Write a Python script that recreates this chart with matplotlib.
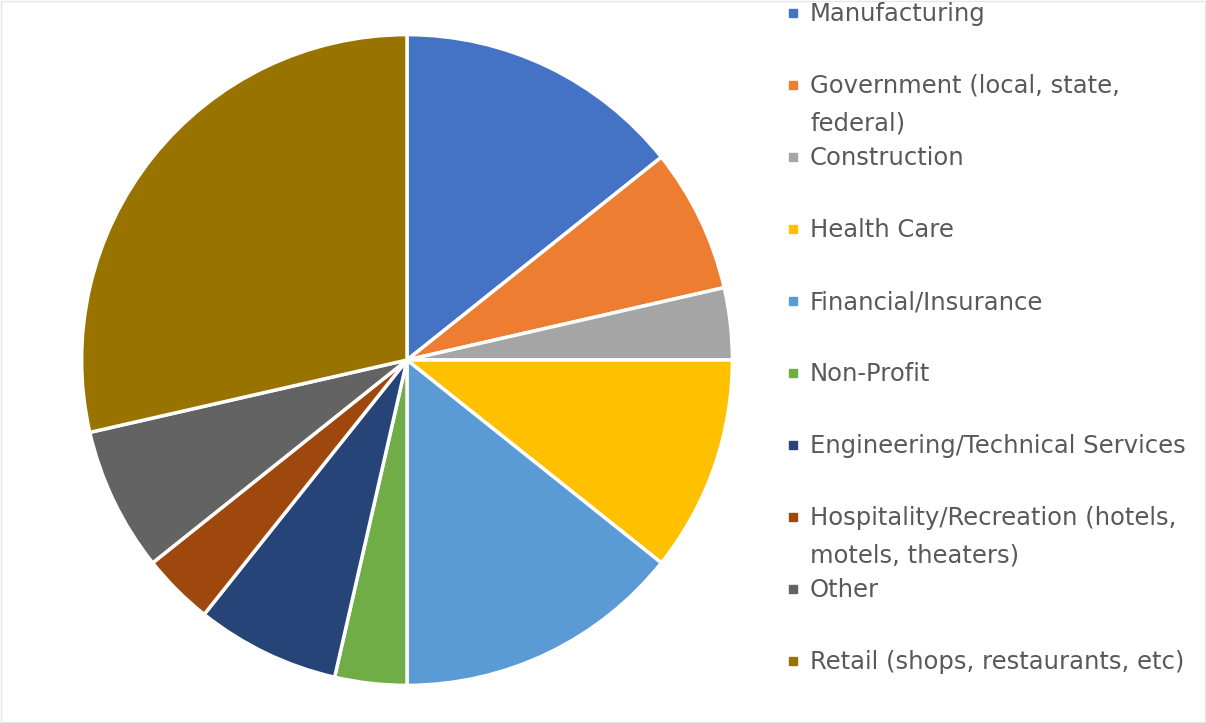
import matplotlib.pyplot as plt
from matplotlib.patches import Rectangle

# данные (количество ответов по отраслям)
labels = [
    'Manufacturing',
    'Government (local, state,\nfederal)',
    'Construction',
    'Health Care',
    'Financial/Insurance',
    'Non-Profit',
    'Engineering/Technical Services',
    'Hospitality/Recreation (hotels,\nmotels, theaters)',
    'Other',
    'Retail (shops, restaurants, etc)',
]
counts = [4, 2, 1, 3, 4, 1, 2, 1, 2, 8]
colors = ['#4472C4', '#ED7D31', '#A5A5A5', '#FFC000', '#5B9BD5',
          '#70AD47', '#264478', '#9E480E', '#636363', '#997300']

W, H = 1206, 723
fig = plt.figure(figsize=(W / 100, H / 100), dpi=100)

# круговая диаграмма
cx, cy, r = 407, 360, 327
ax = fig.add_axes([(cx - r) / W, (H - cy - r) / H, 2 * r / W, 2 * r / H])
ax.pie(counts, colors=colors, startangle=90, counterclock=False, radius=1,
       wedgeprops=dict(edgecolor='white', linewidth=2.5))
ax.set_xlim(-1.005, 1.005)
ax.set_ylim(-1.005, 1.005)
ax.set_aspect('auto')
ax.axis('off')

# легенда вручную
y0, step = 13, 72
for i, (lab, col) in enumerate(zip(labels, colors)):
    y = y0 + step * i
    fig.patches.append(Rectangle((789 / W, 1 - (y + 4) / H), 8 / W, 8 / H,
                                 transform=fig.transFigure, color=col))
    fig.text(810 / W, 1 - (y - 11) / H, lab, ha='left', va='top',
             fontsize=17.5, color='#595959', family='DejaVu Sans',
             linespacing=1.7)

# тонкая рамка
fig.patches.append(Rectangle((0.001, 0.002), 0.998, 0.997, transform=fig.transFigure,
                             fill=False, edgecolor='#E6E6E6', linewidth=1))

fig.savefig('out.png', dpi=100)
